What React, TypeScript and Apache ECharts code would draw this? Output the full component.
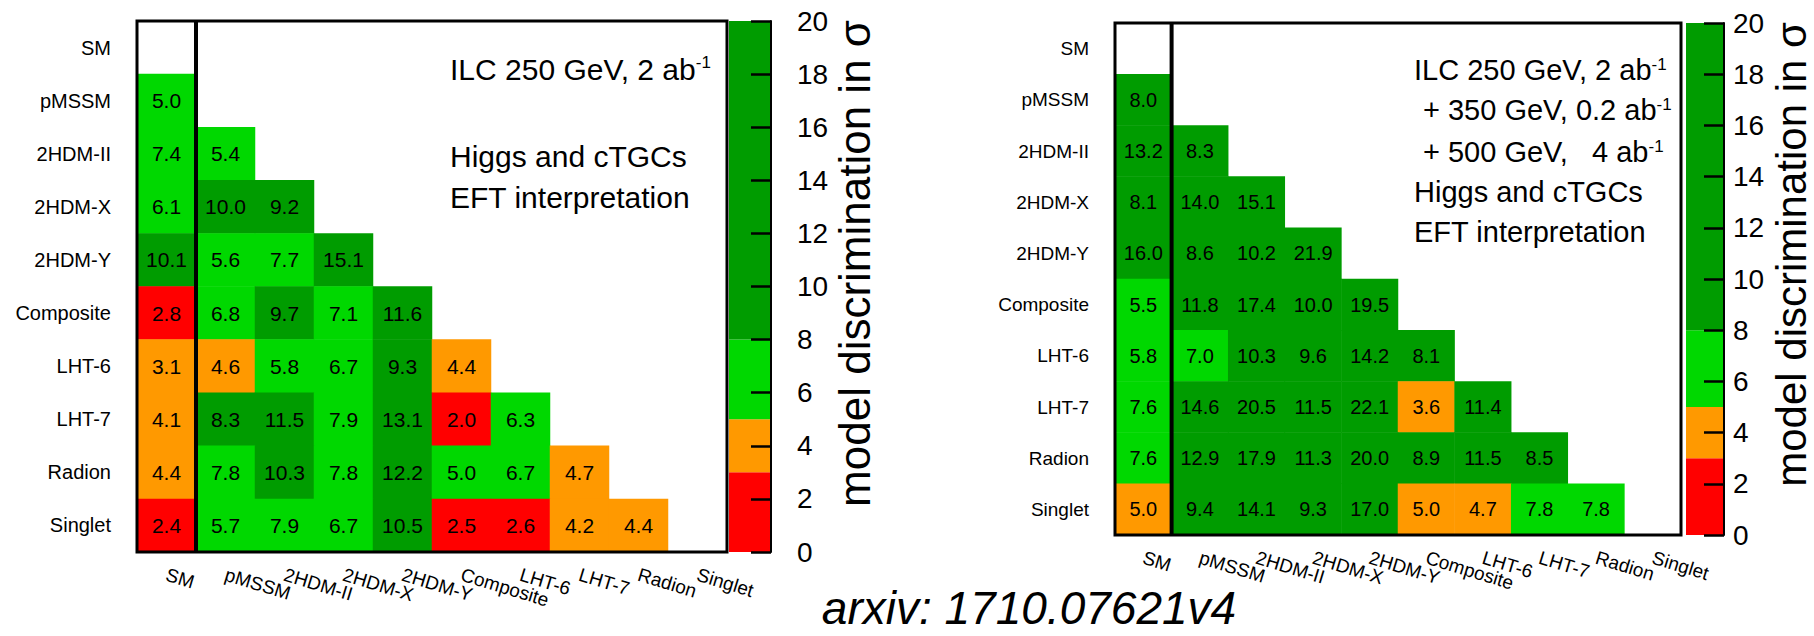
import React, { useEffect, useRef } from "react";
import * as echarts from "echarts";

const FONT = "'Liberation Sans', Arial, Helvetica, sans-serif";

// Models (rows top->bottom, columns left->right)
const models = ["SM", "pMSSM", "2HDM-II", "2HDM-X", "2HDM-Y", "Composite", "LHT-6", "LHT-7", "Radion", "Singlet"];

// Lower-triangle discrimination values: row i holds columns 0..i-1
const ilc250: number[][] = [
  [],
  [5.0],
  [7.4, 5.4],
  [6.1, 10.0, 9.2],
  [10.1, 5.6, 7.7, 15.1],
  [2.8, 6.8, 9.7, 7.1, 11.6],
  [3.1, 4.6, 5.8, 6.7, 9.3, 4.4],
  [4.1, 8.3, 11.5, 7.9, 13.1, 2.0, 6.3],
  [4.4, 7.8, 10.3, 7.8, 12.2, 5.0, 6.7, 4.7],
  [2.4, 5.7, 7.9, 6.7, 10.5, 2.5, 2.6, 4.2, 4.4],
];

const ilcFull: number[][] = [
  [],
  [8.0],
  [13.2, 8.3],
  [8.1, 14.0, 15.1],
  [16.0, 8.6, 10.2, 21.9],
  [5.5, 11.8, 17.4, 10.0, 19.5],
  [5.8, 7.0, 10.3, 9.6, 14.2, 8.1],
  [7.6, 14.6, 20.5, 11.5, 22.1, 3.6, 11.4],
  [7.6, 12.9, 17.9, 11.3, 20.0, 8.9, 11.5, 8.5],
  [4.96, 9.4, 14.1, 9.3, 17.0, 4.96, 4.7, 7.8, 7.8],
];

// Colour scale
const scaleBounds = [0, 3, 5, 8, 20];
const scaleColors = ["#ff0000", "#ff9900", "#00d800", "#009c00"];
const scaleTicks = { min: 0, max: 20, interval: 2 };

const colorTitle = "model discrimination in σ";
const leftNotes = [
  { main: "ILC 250 GeV, 2 ab", sup: "-1" },
  { main: "Higgs and cTGCs", sup: "" },
  { main: "EFT interpretation", sup: "" },
];
const rightNotes = [
  { main: "ILC 250 GeV, 2 ab", sup: "-1" },
  { main: "+ 350 GeV, 0.2 ab", sup: "-1" },
  { main: "+ 500 GeV,\u00a0\u00a0 4 ab", sup: "-1" },
  { main: "Higgs and cTGCs", sup: "" },
  { main: "EFT interpretation", sup: "" },
];
const footer = "arxiv: 1710.07621v4";

function toCells(m: number[][]) {
  const out: number[][] = [];
  m.forEach((row, r) => row.forEach((v, c) => out.push([c, r, v])));
  return out;
}

export default function App() {
  const ref = useRef<HTMLDivElement>(null);
  useEffect(() => {
    if (!ref.current) return;
    const chart = echarts.init(ref.current, null, { renderer: "svg" });

    const pieces = scaleColors.map((color, i) =>
      i === scaleColors.length - 1
        ? { gte: scaleBounds[i], color }
        : { gte: scaleBounds[i], lt: scaleBounds[i + 1], color }
    );

    const heatX = (g: number, fs: number) => ({
      type: "category",
      gridIndex: g,
      data: models,
      axisLine: { show: false },
      axisTick: { show: false },
      splitLine: { show: false },
      axisLabel: { interval: 0, rotate: -17, margin: 22, fontSize: fs, color: "#000", fontFamily: FONT },
    });
    const heatY = (g: number, fs: number) => ({
      type: "category",
      gridIndex: g,
      data: models,
      inverse: true,
      axisLine: { show: false },
      axisTick: { show: false },
      splitLine: { show: false },
      axisLabel: { interval: 0, margin: 26, fontSize: fs, color: "#000", fontFamily: FONT },
    });
    const cbX = (g: number) => ({ type: "category", gridIndex: g, data: [""], show: false });
    const cbY = (g: number, fs: number, margin: number) => ({
      type: "value",
      gridIndex: g,
      position: "right",
      min: scaleTicks.min,
      max: scaleTicks.max,
      interval: scaleTicks.interval,
      z: 10,
      splitLine: { show: false },
      axisLine: { show: true, lineStyle: { color: "#000", width: 2 } },
      axisTick: { show: true, inside: true, length: 20, lineStyle: { color: "#000", width: 2.5 } },
      axisLabel: { fontSize: fs, color: "#000", margin, fontFamily: FONT },
    });

    const heat = (idx: number, m: number[][], fs: number) => ({
      type: "heatmap",
      xAxisIndex: idx,
      yAxisIndex: idx,
      data: toCells(m),
      silent: true,
      label: {
        show: true,
        fontSize: fs,
        color: "#000",
        fontFamily: FONT,
        formatter: (p: any) => Number(p.value[2]).toFixed(1),
      },
      emphasis: { disabled: true },
    });

    const frame = (idx: number) => ({
      type: "custom",
      xAxisIndex: idx,
      yAxisIndex: idx,
      data: [[0, 0]],
      z: 10,
      silent: true,
      renderItem: (params: any, api: any) => {
        const cs = params.coordSys;
        const size = api.size([1, 1]);
        const c0 = api.coord([0, 0]);
        const sepX = c0[0] + size[0] / 2;
        return {
          type: "group",
          children: [
            {
              type: "rect",
              shape: { x: cs.x, y: cs.y, width: cs.width, height: cs.height },
              style: { fill: "none", stroke: "#000", lineWidth: 3 },
            },
            {
              type: "line",
              shape: { x1: sepX, y1: cs.y, x2: sepX, y2: cs.y + cs.height },
              style: { stroke: "#000", lineWidth: 4 },
            },
          ],
        };
      },
    });

    const colorbar = (idx: number) =>
      scaleColors.map((color, i) => ({
        type: "bar",
        xAxisIndex: idx,
        yAxisIndex: idx,
        stack: "cb" + idx,
        barWidth: "100%",
        silent: true,
        data: [scaleBounds[i + 1] - scaleBounds[i]],
        itemStyle: { color },
      }));

    const noteEls = (notes: { main: string; sup: string }[], xs: number[], ys: number[], fs: number) =>
      notes.map((n, i) => ({
        type: "text",
        x: xs[i],
        y: ys[i],
        style: {
          text: n.sup ? `{m|${n.main}}{s|${n.sup}}` : `{m|${n.main}}`,
          rich: {
            m: { fontSize: fs, fontFamily: FONT, fill: "#000" },
            s: { fontSize: Math.round(fs * 0.58), fontFamily: FONT, fill: "#000", verticalAlign: "top" },
          },
          verticalAlign: "middle",
          align: "left",
        },
      }));

    const option: any = {
      animation: false,
      textStyle: { fontFamily: FONT },
      grid: [
        { left: 137, top: 21, width: 590, height: 531 },
        { left: 729, top: 21, width: 42, height: 531 },
        { left: 1115, top: 23, width: 566, height: 512 },
        { left: 1686, top: 23, width: 38, height: 512 },
      ],
      xAxis: [heatX(0, 19), cbX(1), heatX(2, 19), cbX(3)],
      yAxis: [heatY(0, 20), cbY(1, 28, 26), heatY(2, 19), cbY(3, 28, 9)],
      visualMap: { type: "piecewise", show: false, seriesIndex: [0, 1], dimension: 2, pieces },
      series: [
        heat(0, ilc250, 21),
        heat(2, ilcFull, 20),
        frame(0),
        frame(2),
        ...colorbar(1),
        ...colorbar(3),
      ],
      graphic: [
        ...noteEls(leftNotes, [450, 450, 450], [69, 156, 197], 30),
        ...noteEls(rightNotes, [1414, 1423, 1423, 1414, 1414], [70, 110, 152, 192, 232], 29),
        {
          type: "text",
          x: 854,
          y: 20,
          rotation: Math.PI / 2,
          style: { text: colorTitle, fontSize: 44, fontFamily: FONT, fill: "#000", align: "right", verticalAlign: "middle" },
        },
        {
          type: "text",
          x: 1791,
          y: 22,
          rotation: Math.PI / 2,
          style: { text: colorTitle, fontSize: 42, fontFamily: FONT, fill: "#000", align: "right", verticalAlign: "middle" },
        },
        {
          type: "text",
          x: 1029,
          y: 608,
          style: {
            text: footer,
            fontSize: 46,
            fontStyle: "italic",
            fontFamily: FONT,
            fill: "#000",
            align: "center",
            verticalAlign: "middle",
          },
        },
      ],
    };
    chart.setOption(option);
    return () => chart.dispose();
  }, []);
  return (
    <div
      ref={ref}
      style={{ position: "fixed", left: 0, top: 0, width: 1814, height: 636, background: "#fff" }}
    />
  );
}
